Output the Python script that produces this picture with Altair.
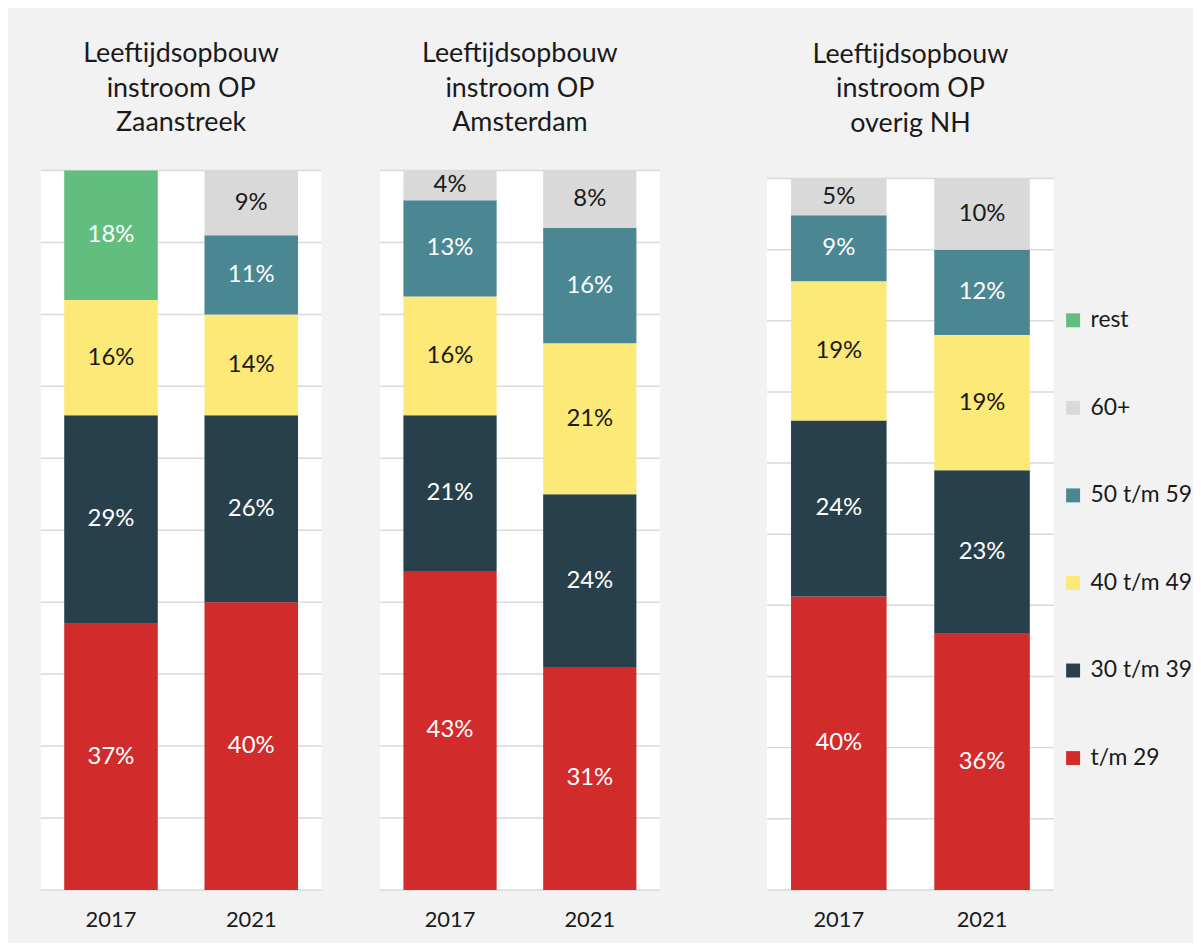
import altair as alt
import pandas as pd

FONT = "Lato"

cats = ["t/m 29", "30 t/m 39", "40 t/m 49", "50 t/m 59", "60+", "rest"]
legend_order = ["rest", "60+", "50 t/m 59", "40 t/m 49", "30 t/m 39", "t/m 29"]
colors = ["#62be7f", "#d9d9d9", "#4a8793", "#fce977", "#27404b", "#d22b2b"]

years = ["2017", "2021"]

titles = {
    "Zaanstreek": ["Leeftijdsopbouw", "instroom OP", "Zaanstreek"],
    "Amsterdam": ["Leeftijdsopbouw", "instroom OP", "Amsterdam"],
    "overig NH": ["Leeftijdsopbouw", "instroom OP", "overig NH"],
}

zaan_2017 = [37, 29, 16, None, None, 18]
zaan_2021 = [40, 26, 14, 11, 9, None]
ams_2017 = [43, 21, 16, 13, 4, None]
ams_2021 = [31, 24, 21, 16, 8, None]
nh_2017 = [40, 24, 19, 9, 5, None]
nh_2021 = [36, 23, 19, 12, 10, None]

grid_values = [0.0, 0.1, 0.2, 0.3, 0.4, 0.5, 0.6, 0.7, 0.8, 0.9, 1.0]

series = {
    "Zaanstreek": [zaan_2017, zaan_2021],
    "Amsterdam": [ams_2017, ams_2021],
    "overig NH": [nh_2017, nh_2021],
}

rows = []
for region, vals in series.items():
    for yr, vlist in zip(years, vals):
        for i, (c, v) in enumerate(zip(cats, vlist)):
            if v is not None:
                rows.append({"region": region, "year": yr, "cat": c, "ord": i, "value": v})
df = pd.DataFrame(rows)

color_scale = alt.Scale(domain=legend_order, range=colors)
bg_df = pd.DataFrame({"lo": [0.0], "hi": [1.0]})
grid_df = pd.DataFrame({"g": grid_values})


def panel(region, width, ymax):
    yscale = alt.Scale(domain=[0, ymax], nice=False, zero=True)
    base = (
        alt.Chart(df)
        .transform_filter(alt.datum.region == region)
        .transform_stack(
            stack="value",
            groupby=["year"],
            as_=["v0", "v1"],
            sort=[alt.SortField("ord", order="ascending")],
            offset="normalize",
        )
        .transform_calculate(mid="(datum.v0 + datum.v1) / 2", label="datum.value + '%'")
    )
    x = alt.X(
        "year:N",
        scale=alt.Scale(paddingInner=0.333, paddingOuter=0.1667),
        axis=alt.Axis(
            title=None, ticks=False, domain=False, labelAngle=0, labelFontSize=22,
            labelPadding=20, labelColor="#1a1a1a", labelFont=FONT, grid=False,
        ),
    )
    plot_bg = alt.Chart(bg_df).mark_rect(color="white").encode(
        y=alt.Y("lo:Q", scale=yscale, axis=None),
        y2="hi:Q",
    )
    grid = alt.Chart(grid_df).mark_rule(color="#d9d9d9", strokeWidth=1.5).encode(
        y=alt.Y("g:Q", scale=yscale, axis=None),
    )
    bars = base.mark_bar().encode(
        x=x,
        y=alt.Y("v0:Q", scale=yscale, axis=None),
        y2="v1:Q",
        color=alt.Color(
            "cat:N",
            scale=color_scale,
            legend=alt.Legend(
                title=None, orient="none", legendX=1026, legendY=139,
                symbolType="square", symbolSize=196, symbolStrokeWidth=0,
                labelFontSize=23, labelFont=FONT, labelColor="#1a1a1a",
                rowPadding=64, labelOffset=6, padding=0,
            ),
        ),
    )
    text = base.mark_text(fontSize=24, font=FONT, align="center", baseline="middle").encode(
        x=x,
        y=alt.Y("mid:Q", scale=yscale, axis=None),
        text="label:N",
        color=alt.condition(
            "datum.cat == '40 t/m 49' || datum.cat == '60+'",
            alt.value("#1a1a1a"),
            alt.value("#ffffff"),
        ),
    )
    return alt.layer(plot_bg, grid, bars, text).properties(
        width=width,
        height=723,
        title=alt.TitleParams(
            text=titles[region], fontSize=27, font=FONT, fontWeight="normal",
            lineHeight=34.5, anchor="middle", baseline="bottom", offset=6,
            color="#1a1a1a",
        ),
    )


p1 = panel("Zaanstreek", 282, 1.0)
p2 = panel("Amsterdam", 281, 1.0)
p3 = panel("overig NH", 288, 723 / 715)

chart = (
    alt.hconcat(alt.hconcat(p1, p2, spacing=57), p3, spacing=106)
    .properties(background="#f2f2f2", padding={"left": 32, "top": 30, "right": 0, "bottom": 10})
    .configure_view(strokeWidth=0)
)

chart.save("out.html", embed_options={"renderer": "svg", "actions": False})
